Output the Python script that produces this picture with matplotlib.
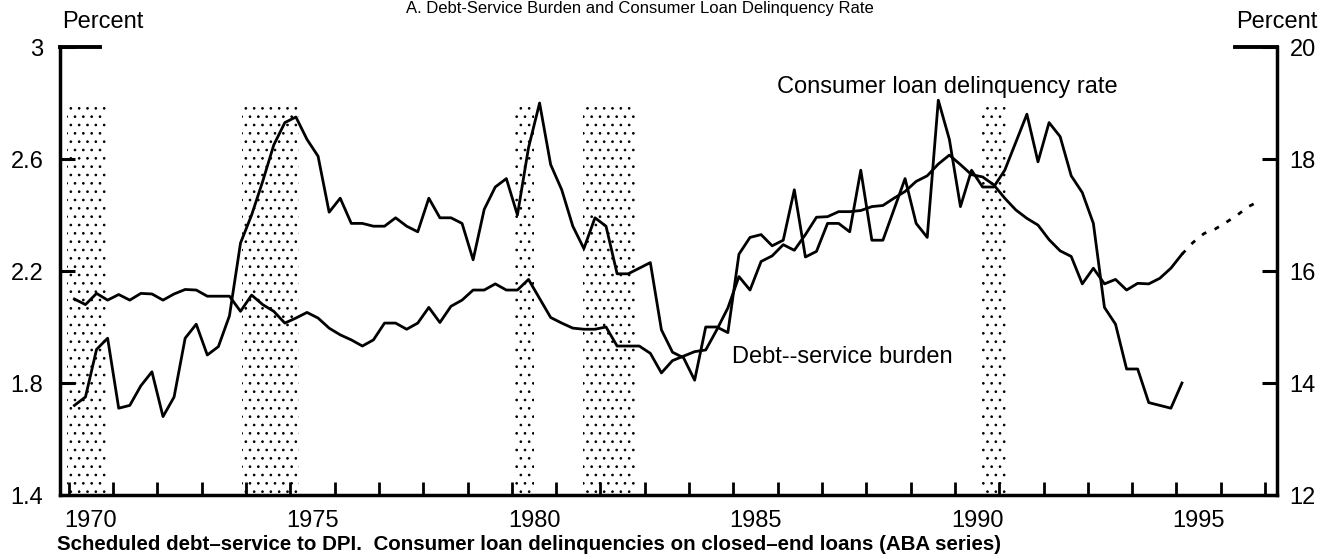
import matplotlib
matplotlib.use('Agg')
import matplotlib.pyplot as plt
import numpy as np

plt.rcParams['font.family'] = ['Liberation Sans', 'DejaVu Sans']
plt.rcParams['hatch.linewidth'] = 0.7

# quarterly observations, first one is 1970 Q1
first_year = 1970

# consumer loan delinquency rate, percent (left scale)
delinquency = [
    1.72, 1.75, 1.92, 1.96,
    1.71, 1.72, 1.79, 1.84,
    1.68, 1.75, 1.96, 2.01,
    1.90, 1.93, 2.04, 2.30,
    2.40, 2.52, 2.65, 2.73,
    2.75, 2.67, 2.61, 2.41,
    2.46, 2.37, 2.37, 2.36,
    2.36, 2.39, 2.36, 2.34,
    2.46, 2.39, 2.39, 2.37,
    2.24, 2.42, 2.50, 2.53,
    2.40, 2.64, 2.80, 2.58,
    2.49, 2.36, 2.28, 2.39,
    2.36, 2.19, 2.19, 2.21,
    2.23, 1.99, 1.91, 1.89,
    1.81, 2.00, 2.00, 1.98,
    2.26, 2.32, 2.33, 2.29,
    2.31, 2.49, 2.25, 2.27,
    2.37, 2.37, 2.34, 2.56,
    2.31, 2.31, 2.42, 2.53,
    2.37, 2.32, 2.81, 2.67,
    2.43, 2.56, 2.50, 2.50,
    2.56, 2.66, 2.76, 2.59,
    2.73, 2.68, 2.54, 2.48,
    2.37, 2.07, 2.01, 1.85,
    1.85, 1.73, 1.72, 1.71,
    1.80,
]

# scheduled debt-service to DPI, percent (right scale)
debt_service = [
    15.50, 15.40, 15.60, 15.48,
    15.58, 15.48, 15.60, 15.59,
    15.48, 15.59, 15.67, 15.66,
    15.55, 15.55, 15.55, 15.28,
    15.57, 15.40, 15.28, 15.07,
    15.16, 15.26, 15.16, 14.98,
    14.86, 14.77, 14.66, 14.77,
    15.07, 15.07, 14.96, 15.07,
    15.35, 15.08, 15.37, 15.48,
    15.66, 15.66, 15.77, 15.66,
    15.66, 15.85, 15.51, 15.17,
    15.07, 14.98, 14.96, 14.96,
    15.00, 14.66, 14.66, 14.66,
    14.53, 14.18, 14.40, 14.48,
    14.56, 14.59, 14.95, 15.34,
    15.90, 15.66, 16.17, 16.27,
    16.47, 16.37, 16.65, 16.96,
    16.97, 17.06, 17.06, 17.08,
    17.15, 17.17, 17.30, 17.42,
    17.60, 17.70, 17.91, 18.07,
    17.90, 17.72, 17.68, 17.54,
    17.30, 17.09, 16.94, 16.82,
    16.56, 16.36, 16.26, 15.77,
    16.05, 15.77, 15.85, 15.66,
    15.78, 15.77, 15.87, 16.05,
    16.30,
]

# projected debt-service, 1995 Q1 .. 1996 Q4
projection = [16.30, 16.51, 16.67, 16.75, 16.87, 17.00, 17.15, 17.25]

# recessions (shaded)
recession_start = [1969.95, 1973.90, 1980.04, 1981.60, 1990.60]
recession_end = [1970.87, 1975.20, 1980.50, 1982.80, 1991.15]

year_labels = ['1970', '1975', '1980', '1985', '1990', '1995']
left_ticks = [1.4, 1.8, 2.2, 2.6, 3.0]
left_labels = ['1.4', '1.8', '2.2', '2.6', '3']
right_ticks = [12, 14, 16, 18, 20]


def quarters(start, n):
    return start + (np.arange(n) + 0.5) / 4.0


fig = plt.figure(figsize=(13.34, 5.59), dpi=100)
ax = fig.add_axes([60 / 1334, 64 / 559, 1217 / 1334, 448 / 559])
ax2 = ax.twinx()

ax.set_xlim(1969.8, 1997.27)
ax.set_ylim(1.4, 3.0)
ax2.set_ylim(12, 20)

# recession shading
for x0, x1 in zip(recession_start, recession_end):
    ax.fill_between([x0, x1], 1.4, 2.785, facecolor='none', edgecolor='black',
                    hatch='..', linewidth=0, zorder=1)

t = quarters(first_year, len(delinquency))
ax.plot(t, delinquency, color='black', lw=2.0, zorder=3)
ax2.plot(quarters(first_year, len(debt_service)), debt_service, color='black', lw=2.0, zorder=3)
tp = quarters(first_year + 25, len(projection))
ax2.plot(tp, projection, color='black', lw=2.0, linestyle=(0, (1.8, 3.2)))

# spines
ax.spines['top'].set_visible(False)
ax2.spines['top'].set_visible(False)
for s in ['left', 'bottom']:
    ax.spines[s].set_linewidth(2.5)
ax.spines['right'].set_visible(False)
ax2.spines['left'].set_visible(False)
ax2.spines['bottom'].set_visible(False)
ax2.spines['right'].set_linewidth(2.5)

# x axis: a tick every year, labels centred in the year
ax.set_xticks(np.arange(1970, 1998))
ax.set_xticklabels([])
ax.set_xticks([int(y) + 0.5 for y in year_labels], minor=True)
ax.set_xticklabels(year_labels, minor=True)
ax.tick_params(axis='x', which='major', direction='in', length=9.5, width=2.0)
ax.tick_params(axis='x', which='minor', length=0, pad=11, labelsize=17)

ax.set_yticks(left_ticks)
ax.set_yticklabels(left_labels)
ax.tick_params(axis='y', direction='in', length=11, width=2.2, pad=12, labelsize=17)
ax2.set_yticks(right_ticks)
ax2.tick_params(axis='y', direction='in', length=11, width=2.2, pad=9, labelsize=17)

# short caps at the top of both scales
ax.axhline(3.0, xmin=0, xmax=40 / 1217, color='black', lw=2.8, clip_on=False)
ax2.axhline(20, xmin=1 - 42 / 1217, xmax=1, color='black', lw=2.8, clip_on=False)

ax.text(1985.98, 2.836, 'Consumer loan delinquency rate', fontsize=17, va='baseline')
ax.text(1984.97, 1.871, 'Debt--service burden', fontsize=17, va='baseline')

fig.text(62 / 1334, 1 - 22 / 559, 'Percent', fontsize=17, ha='left', va='center')
fig.text(1318 / 1334, 1 - 22 / 559, 'Percent', fontsize=17, ha='right', va='center')
fig.text(640 / 1334, 1 - 1 / 559, 'A. Debt-Service Burden and Consumer Loan Delinquency Rate',
         fontsize=12, ha='center', va='top')
fig.text(57 / 1334, 1 - 545 / 559,
         'Scheduled debt\u2013service to DPI.  Consumer loan delinquencies on closed\u2013end loans (ABA series)',
         fontsize=14.8, fontweight='bold', ha='left', va='center')

fig.savefig('out.png', dpi=100)
